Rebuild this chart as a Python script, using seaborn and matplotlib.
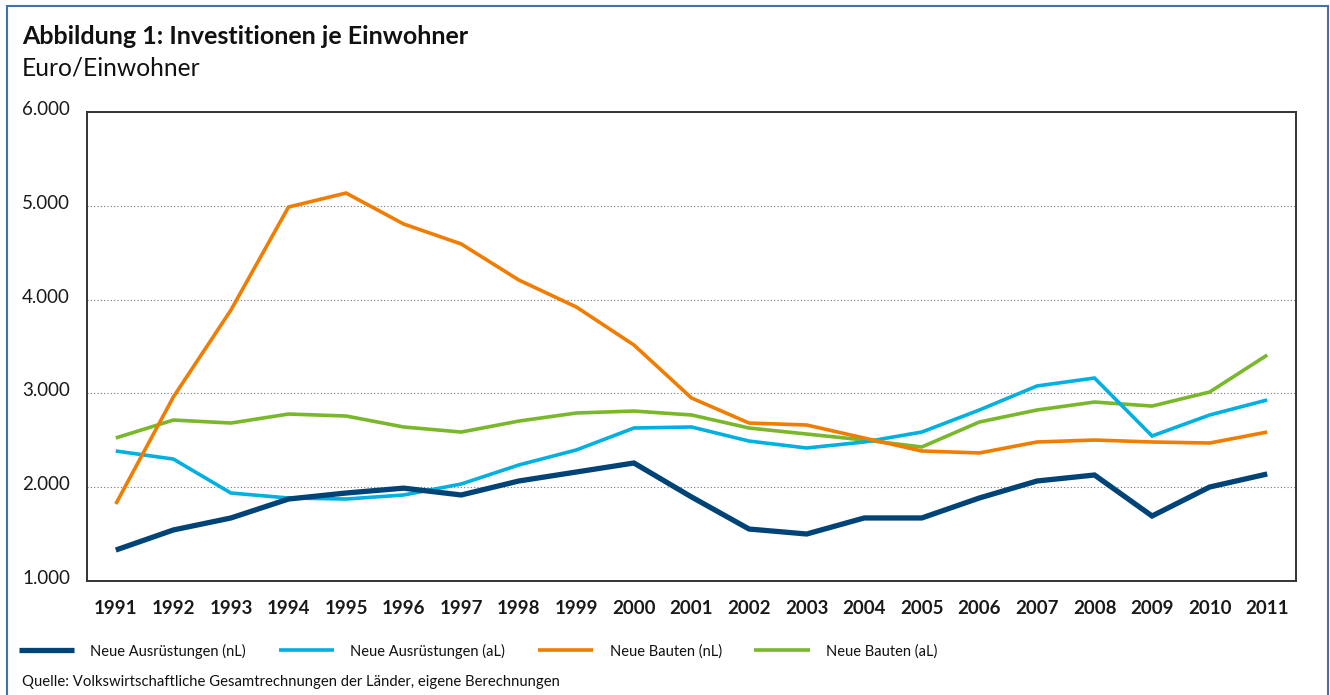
import matplotlib
matplotlib.use("Agg")
import matplotlib.pyplot as plt
import matplotlib.patches as mpatches
from matplotlib.transforms import ScaledTranslation
import seaborn as sns
import pandas as pd

years = list(range(1991, 2012))
ausr_nl = [1330, 1544, 1672, 1874, 1938, 1990, 1917, 2066, 2162, 2258, 1896,
           1554, 1501, 1672, 1672, 1885, 2066, 2130, 1693, 2002, 2141]
ausr_al = [2386, 2300, 1938, 1885, 1874, 1917, 2034, 2237, 2397, 2631, 2642,
           2492, 2418, 2482, 2588, 2823, 3079, 3164, 2546, 2770, 2930]
bauten_nl = [1821, 2962, 3889, 4987, 5136, 4806, 4593, 4209, 3921, 3516, 2951,
             2684, 2663, 2524, 2386, 2365, 2482, 2503, 2482, 2471, 2588]
bauten_al = [2525, 2716, 2684, 2780, 2759, 2642, 2588, 2705, 2791, 2812, 2770,
             2631, 2567, 2503, 2429, 2695, 2823, 2908, 2865, 3015, 3409]
series_names = ["Neue Ausrüstungen (nL)", "Neue Ausrüstungen (aL)",
                "Neue Bauten (nL)", "Neue Bauten (aL)"]
y_ticks = [1000, 2000, 3000, 4000, 5000, 6000]
y_tick_labels = ["1.000", "2.000", "3.000", "4.000", "5.000", "6.000"]

title = "Abbildung 1: Investitionen je Einwohner"
subtitle = "Euro/Einwohner"
source = "Quelle: Volkswirtschaftliche Gesamtrechnungen der Länder, eigene Berechnungen"

colors = {"Neue Ausrüstungen (nL)": "#004377",
          "Neue Ausrüstungen (aL)": "#00b0e0",
          "Neue Bauten (nL)": "#f07d00",
          "Neue Bauten (aL)": "#78b82a"}
widths = {"Neue Ausrüstungen (nL)": 3.8,
          "Neue Ausrüstungen (aL)": 2.6,
          "Neue Bauten (nL)": 2.6,
          "Neue Bauten (aL)": 2.6}

frames = []
for name, vals in zip(series_names, [ausr_nl, ausr_al, bauten_nl, bauten_al]):
    frames.append(pd.DataFrame({"Jahr": years, "Wert": vals, "Serie": name}))
df = pd.concat(frames, ignore_index=True)

sns.set_theme(style="white")
plt.rcParams["font.family"] = ["Lato", "DejaVu Sans"]

W, H = 1330, 695
fig = plt.figure(figsize=(W / 100, H / 100), dpi=100)
ax = fig.add_axes([87 / W, 1 - 581 / H, (1296 - 87) / W, (581 - 112) / H])

draw_order = ["Neue Bauten (aL)", "Neue Ausrüstungen (aL)", "Neue Bauten (nL)", "Neue Ausrüstungen (nL)"]
handles = {}
for name in draw_order:
    sub = df[df["Serie"] == name]
    sns.lineplot(data=sub, x="Jahr", y="Wert", color=colors[name],
                 linewidth=widths[name], ax=ax, label=name, legend=False,
                 solid_joinstyle="miter", solid_capstyle="butt")
    handles[name] = ax.lines[-1]

ax.set_xlim(years[0] - 0.5, years[-1] + 0.5)
ax.set_ylim(1000, 6000)
ax.set_xticks(years)
ax.set_xticklabels([str(y) for y in years], fontsize=13.5, fontweight="bold", color="#1a1a1a")
ax.set_yticks(y_ticks)
ax.set_yticklabels(y_tick_labels, fontsize=13.5, color="#1a1a1a")
ax.tick_params(axis="both", length=0)
ax.tick_params(axis="x", pad=13.5)
ax.tick_params(axis="y", pad=65 * 0.72)
offset = ScaledTranslation(0, 4 / 100, fig.dpi_scale_trans)
for lab in ax.get_yticklabels():
    lab.set_horizontalalignment("left")
    lab.set_transform(lab.get_transform() + offset)
ax.set_xlabel("")
ax.set_ylabel("")
for s in ax.spines.values():
    s.set_visible(True)
    s.set_color("#333333")
    s.set_linewidth(1.4)
ax.yaxis.grid(True, linestyle=(0, (1, 2)), color="#777777", linewidth=0.8)
ax.xaxis.grid(False)
ax.set_axisbelow(True)

fig.text(22 / W, 1 - 36 / H, title, fontsize=18, fontweight="bold", va="center", ha="left", color="#111111")
fig.text(22 / W, 1 - 68 / H, subtitle, fontsize=17.7, va="center", ha="left", color="#111111")
fig.text(22 / W, 1 - 682 / H, source, fontsize=10.7, va="center", ha="left", color="#111111")

leg = fig.legend([handles[n] for n in series_names], series_names, loc="center left",
                 bbox_to_anchor=(19 / W, 1 - 651 / H), ncol=4, frameon=False,
                 fontsize=10.5, handlelength=3.8, handletextpad=1.1, columnspacing=2.25,
                 borderpad=0, borderaxespad=0)
for t in leg.get_texts():
    t.set_color("#111111")

border = mpatches.Rectangle((7 / W, -0.05), (1328 - 7) / W, 1 - 6 / H + 0.05,
                            transform=fig.transFigure, fill=False,
                            edgecolor="#4472a8", linewidth=1.5, clip_on=False)
fig.patches.append(border)

fig.savefig("out.png", dpi=100, facecolor="white")
